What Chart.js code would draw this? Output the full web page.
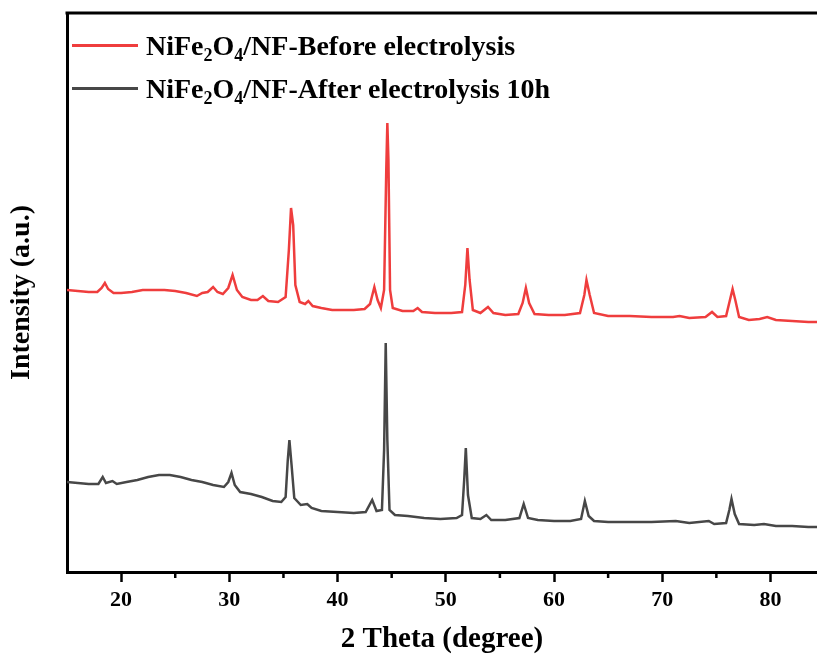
<!DOCTYPE html>
<html>
<head>
<meta charset="utf-8">
<script src="https://cdn.jsdelivr.net/npm/chart.js@4.4.1/dist/chart.umd.min.js"></script>
<style>
  html, body { margin: 0; padding: 0; background: #fff; overflow: hidden; }
  #wrap { position: relative; width: 817px; height: 661px; }
  #legende { position: absolute; left: 72px; top: 24px; font-family: "Liberation Serif", "Times New Roman", serif; font-weight: bold; font-size: 28px; color: #000; }
  .item { display: flex; align-items: center; height: 43px; white-space: nowrap; }
  .trait { width: 66px; height: 3px; margin-right: 8px; flex: none; }
  sub { font-size: 18px; vertical-align: -6px; line-height: 0; }
</style>
</head>
<body>
<div id="wrap">
  <canvas id="graph" width="817" height="661"></canvas>
  <div id="legende">
    <div class="item"><span class="trait" style="background:#ef3d3d"></span><span>NiFe<sub>2</sub>O<sub>4</sub>/NF-Before electrolysis</span></div>
    <div class="item"><span class="trait" style="background:#474747"></span><span>NiFe<sub>2</sub>O<sub>4</sub>/NF-After electrolysis 10h</span></div>
  </div>
</div>
<script>
// === DONNEES (2 theta, intensité) ===
const avantX = [15.0,16.0,17.0,17.8,18.2,18.5,18.8,19.3,20.0,21.0,22.0,23.0,24.0,25.0,26.0,27.0,27.5,28.0,28.5,28.9,29.4,29.9,30.3,30.7,31.2,32.0,32.6,33.1,33.6,34.5,35.2,35.5,35.7,35.9,36.1,36.5,37.0,37.3,37.7,38.5,39.5,40.5,41.5,42.5,43.0,43.4,43.7,44.0,44.3,44.5,44.6,44.7,44.85,45.1,46.0,47.0,47.4,47.8,49.0,50.5,51.5,51.8,52.0,52.2,52.5,53.2,53.9,54.4,55.5,56.7,57.1,57.4,57.7,58.2,59.5,61.0,62.4,62.8,63.0,63.3,63.7,65.0,67.0,69.0,71.0,71.6,72.5,74.0,74.6,75.1,75.9,76.3,76.5,76.75,77.1,78.0,79.0,79.7,80.5,82.0,83.5,84.3];
const avantY = [282,281,280,280,284,289,283,279,279,280,282,282,282,281,279,276,279,280,285,280,278,284,297,282,275,272,272,276,271,270,275,322,364,347,287,270,268,271,266,264,262,262,262,263,268,285,272,264,282,402,449,412,282,264,261,261,264,260,259,259,260,287,324,292,262,259,265,259,257,258,269,284,269,258,257,257,259,277,292,277,259,256,256,255,255,256,254,255,260,255,256,274,283,272,255,252,253,255,252,251,250,250];

const apresX = [15.0,16.0,17.0,17.9,18.3,18.6,19.2,19.6,20.5,21.5,22.5,23.5,24.5,25.5,26.5,27.5,28.5,29.5,29.9,30.2,30.5,31.0,32.0,33.0,34.0,34.8,35.2,35.4,35.55,35.75,36.0,36.6,37.2,37.6,38.5,40.0,41.5,42.6,43.2,43.6,44.1,44.3,44.45,44.6,44.8,45.3,46.5,48.0,49.5,51.0,51.5,51.7,51.85,52.05,52.4,53.2,53.75,54.2,55.5,56.8,57.2,57.6,58.5,60.0,61.5,62.5,62.85,63.2,63.7,65.0,67.0,69.0,71.25,72.5,74.3,74.8,75.9,76.2,76.4,76.7,77.1,78.5,79.4,80.5,82.0,83.5,84.3];
const apresY = [90,89,88,88,95,89,91,88,90,92,95,97,97,95,92,90,87,85,90,99,87,80,78,75,71,70,75,112,132,107,74,67,68,64,61,60,59,60,72,61,62,122,229,132,62,57,56,54,53,54,57,92,124,77,54,53,57,52,52,54,68,54,52,51,51,53,71,56,51,50,50,50,51,49,51,48,49,62,73,58,48,47,48,46,46,45,45];

const xMajeurs = [20, 30, 40, 50, 60, 70, 80];
const xMineurs = [25, 35, 45, 55, 65, 75];
const libelles = ["NiFe2O4/NF-Before electrolysis", "NiFe2O4/NF-After electrolysis 10h"];

const police = "'Liberation Serif', 'Times New Roman', serif";

// === CADRE (bord haut + petites graduations) ===
const cadre = {
  id: "cadre",
  afterDraw(chart) {
    const ctx = chart.ctx;
    const a = chart.chartArea;
    const sx = chart.scales.x;
    ctx.save();
    ctx.strokeStyle = "#000";
    ctx.lineWidth = 3;
    ctx.beginPath();
    ctx.moveTo(a.left - 1.5, a.top);
    ctx.lineTo(a.right, a.top);
    ctx.stroke();
    ctx.lineWidth = 2.5;
    xMineurs.forEach(v => {
      const px = sx.getPixelForValue(v);
      ctx.beginPath();
      ctx.moveTo(px, a.bottom);
      ctx.lineTo(px, a.bottom + 6);
      ctx.stroke();
    });
    ctx.restore();
  }
};

function points(xs, ys) {
  return xs.map((x, i) => ({ x: x, y: ys[i] }));
}

new Chart(document.getElementById("graph"), {
  type: "line",
  data: {
    datasets: [
      { label: libelles[0], data: points(avantX, avantY), borderColor: "#ef3d3d", borderWidth: 2.5, pointRadius: 0, tension: 0 },
      { label: libelles[1], data: points(apresX, apresY), borderColor: "#474747", borderWidth: 2.5, pointRadius: 0, tension: 0 }
    ]
  },
  options: {
    responsive: false,
    animation: false,
    layout: { padding: { top: 13, right: 0, left: 0, bottom: 0 } },
    plugins: { legend: { display: false }, tooltip: { enabled: false } },
    scales: {
      x: {
        type: "linear",
        min: 15,
        max: 84.3,
        afterBuildTicks: s => { s.ticks = xMajeurs.map(v => ({ value: v })); },
        afterFit: s => { s.height = 89; },
        grid: { drawOnChartArea: false, color: "#000", tickLength: 10, tickWidth: 2.5 },
        border: { display: true, color: "#000", width: 3 },
        ticks: { color: "#000", font: { family: police, size: 22, weight: "bold" }, padding: 5, maxRotation: 0 },
        title: { display: true, text: "2 Theta (degree)", color: "#000", font: { family: police, size: 29, weight: "bold" }, padding: { top: 2, bottom: 4 } }
      },
      y: {
        min: 0,
        max: 559,
        afterFit: s => { s.width = 67; },
        grid: { display: false },
        border: { display: true, color: "#000", width: 3 },
        ticks: { display: false },
        title: { display: true, text: "Intensity (a.u.)", color: "#000", font: { family: police, size: 28, weight: "bold" }, padding: { top: 5, bottom: 0 } }
      }
    }
  },
  plugins: [cadre]
});
</script>
</body>
</html>
